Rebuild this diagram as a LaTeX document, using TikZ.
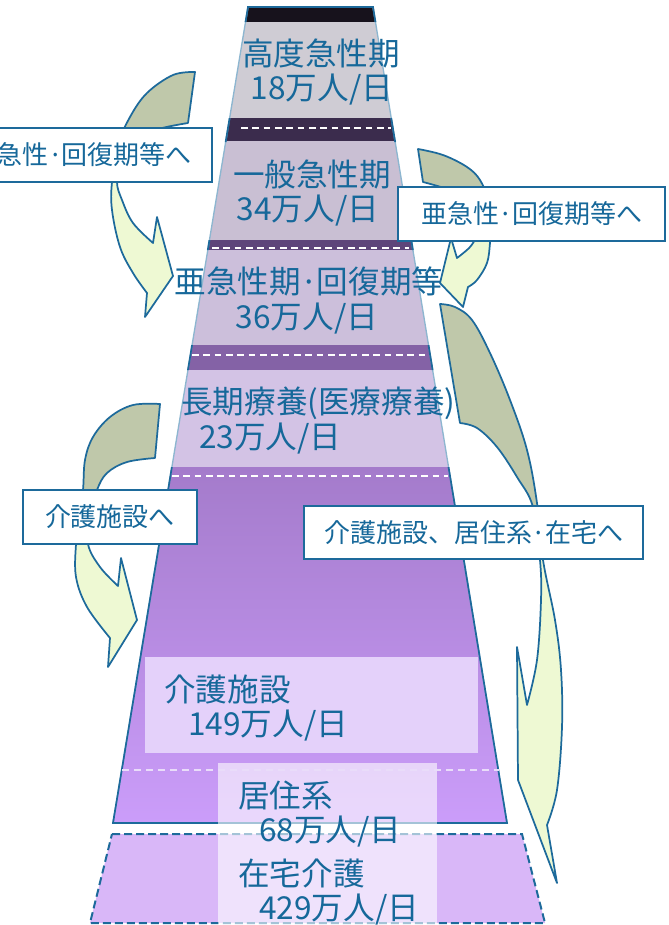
\documentclass[tikz,border=0pt]{standalone}
\usepackage{fontspec}
\setmainfont{Noto Sans CJK JP}
\definecolor{tblue}{HTML}{16689A}
\definecolor{edgeblue}{HTML}{1D6A9B}
\definecolor{lightedge}{HTML}{8DB6D0}
\definecolor{olivefill}{HTML}{BFC8AA}
\definecolor{lightgreen}{HTML}{EEF9D3}
\definecolor{bandone}{HTML}{17121C}
\definecolor{patone}{HTML}{CFCCD4}
\definecolor{bandtwo}{HTML}{3B2C4D}
\definecolor{pattwo}{HTML}{C9BFD3}
\definecolor{bandthree}{HTML}{5E457A}
\definecolor{patthree}{HTML}{CCBFDB}
\definecolor{bandfour}{HTML}{8462A6}
\definecolor{patfour}{HTML}{D3C3E5}
\definecolor{gradtop}{HTML}{A47BCB}
\definecolor{gradbot}{HTML}{CB9DFA}
\definecolor{boxa}{HTML}{E4D1FA}
\definecolor{dashfill}{HTML}{D9B7F8}
\definecolor{dashlight}{HTML}{E9DCF9}
\newcommand{\mydot}{\makebox[0.5em]{·}}
\tikzset{
  maintext/.style={text=tblue, font=\fontsize{23.7}{28}\selectfont, inner sep=0pt},
  lbox/.style={draw=edgeblue, line width=1.5pt, fill=white, text=tblue,
    font=\fontsize{19.5}{23}\selectfont, inner sep=0pt},
  wdash/.style={draw=white, line width=1.5pt, dash pattern=on 5pt off 3.5pt},
  arrowline/.style={draw=edgeblue, line width=1.3pt, line join=round},
}
\def\arrowApath{plot[smooth, tension=0.6] coordinates {(195,72) (173,75) (147,93) (130,117) (118,145) (112,182) (112,210) (120,247) (133,273) (147,293)} -- (145,317) -- (173,276) -- (157,217) -- (153,243) -- plot[smooth, tension=0.6] coordinates {(153,243) (133,223) (122,200) (117,182) (122,160) (135,142) (155,130) (188,123)} -- cycle}
\def\arrowBpath{plot[smooth, tension=0.6] coordinates {(418,149) (443,155) (467,167) (480,180) (488,200) (491,225) (490,243) (487,263) (477,280) (468,287)} -- (463,307) -- (440,283) -- (451,238) -- (457,258) -- plot[smooth, tension=0.6] coordinates {(457,258) (470,247) (476,236) (477,220) (470,205) (455,192) (423,182)} -- cycle}
\def\arrowCpath{plot[smooth, tension=0.6] coordinates {(160,404) (133,405) (110,417) (93,437) (85,460) (83,490) (79,520) (76,544) (76,577) (87,607) (110,638)} -- (108,667) -- (137,620) -- (121,558) -- (118,586) -- plot[smooth, tension=0.6] coordinates {(118,586) (100,567) (88,544) (90,515) (97,490) (107,473) (127,462) (155,458)} -- cycle}
\def\arrowDpath{plot[smooth, tension=0.6] coordinates {(440,304) (455,307) (472,320) (490,353) (510,400) (527,450) (537,503) (543,560) (555,620) (561,670) (562,727) (557,790) (547,825)} -- (557,883) -- (518,780) -- (517,647) -- (527,705) -- plot[smooth, tension=0.6] coordinates {(527,705) (537,660) (541,600) (540,560) (533,507) (517,477) (497,447) (477,428) (460,423)} -- cycle}
\begin{document}
\begin{tikzpicture}[x=0.75pt,y=-0.75pt]
\useasboundingbox (0,0) rectangle (668,925);
\clip (0,0) rectangle (668,925);
\fill[white] (0,0) rectangle (668,925);
% main trapezoid
\coordinate (tl) at (248,7);
\coordinate (tr) at (373,7);
\coordinate (br) at (507,823);
\coordinate (bl) at (113,823);
\begin{scope}
  \clip (tl) -- (tr) -- (br) -- (bl) -- cycle;
  \fill[bandone] (100,0) rectangle (560,23);
  \fill[patone] (100,22) rectangle (560,119);
  \fill[bandtwo] (100,118) rectangle (560,142);
  \fill[pattwo] (100,141) rectangle (560,241);
  \fill[bandthree] (100,240) rectangle (560,251);
  \fill[patthree] (100,250) rectangle (560,346);
  \fill[bandfour] (100,345) rectangle (560,371);
  \fill[patfour] (100,370) rectangle (560,468);
  \shade[top color=gradtop, bottom color=gradbot] (100,467) rectangle (560,824);
\end{scope}
\draw[wdash] (241,128) -- (391,128);
\draw[wdash] (212,248) -- (409,248);
\draw[wdash] (192,355) -- (429,355);
\draw[wdash] (172,476) -- (448,476);
\draw[lightedge, line width=1pt] (tl) -- (tr) -- (br) -- (bl) -- cycle;
\begin{scope}
  \clip (0,0) rectangle (668,22) (0,118) rectangle (668,142) (0,240) rectangle (668,250)
        (0,345) rectangle (668,370) (0,467) rectangle (668,830);
  \draw[edgeblue, line width=1.3pt] (tl) -- (tr) -- (br) -- (bl) -- cycle;
\end{scope}
% dashed lower trapezoid
\draw[fill=dashfill, draw=edgeblue, line width=1.5pt, dash pattern=on 6pt off 3pt]
  (112,834) -- (522,834) -- (545,923) -- (90,923) -- cycle;
% inner boxes
\fill[boxa] (145,657) rectangle (478,753);
\fill[white, fill opacity=0.6] (218,763) rectangle (437,925);
\draw[dashlight, line width=1.2pt, dash pattern=on 5pt off 4pt] (122,770) -- (499,770);
% texts
\node[maintext] (t1a) at (321,54) {高度急性期};
\node[maintext] (t1b) at (322,90) {18万人/日};
\node[maintext] (t2a) at (312,175) {一般急性期};
\node[maintext] (t2b) at (308,211) {34万人/日};
\node[maintext] (t3a) at (309,281) {亜急性期\mydot 回復期等};
\node[maintext] (t3b) at (307,319) {36万人/日};
\node[maintext, anchor=west] (t4a) at (181,403) {長期療養(医療療養)};
\node[maintext, anchor=west] (t4b) at (199,439) {23万人/日};
\node[maintext, anchor=west] (t5a) at (164,689) {介護施設};
\node[maintext, anchor=west] (t5b) at (188,726) {149万人/日};
\node[maintext, anchor=west] (t6a) at (238,795) {居住系};
\node[maintext, anchor=west] (t6b) at (259,832) {68万人/日};
\node[maintext, anchor=west] (t7a) at (238,873) {在宅介護};
\node[maintext, anchor=west] (t7b) at (259,910) {429万人/日};
% curved arrows
\fill[lightgreen] \arrowApath;
\begin{scope}\clip (0,0) rectangle (668,155); \fill[olivefill] \arrowApath; \end{scope}
\draw[arrowline] \arrowApath;
\fill[lightgreen] \arrowBpath;
\begin{scope}\clip (0,0) rectangle (668,214); \fill[olivefill] \arrowBpath; \end{scope}
\draw[arrowline] \arrowBpath;
\fill[lightgreen] \arrowCpath;
\begin{scope}\clip (0,0) rectangle (668,517); \fill[olivefill] \arrowCpath; \end{scope}
\draw[arrowline] \arrowCpath;
\fill[lightgreen] \arrowDpath;
\begin{scope}\clip (0,0) rectangle (668,532); \fill[olivefill] \arrowDpath; \end{scope}
\draw[arrowline] \arrowDpath;
% label boxes
\node[lbox, anchor=east, minimum height=40.5pt, inner xsep=15pt] (lb1) at (213,155) {急性\mydot 回復期等へ};
\node[lbox, minimum width=200.25pt, minimum height=40.5pt] (lb2) at (531.5,214) {亜急性\mydot 回復期等へ};
\node[lbox, minimum width=130.5pt, minimum height=40.5pt] (lb3) at (110,517) {介護施設へ};
\node[lbox, minimum width=254.25pt, minimum height=39.75pt] (lb4) at (473.5,532.5) {介護施設、居住系\mydot 在宅へ};
\end{tikzpicture}
\end{document}
